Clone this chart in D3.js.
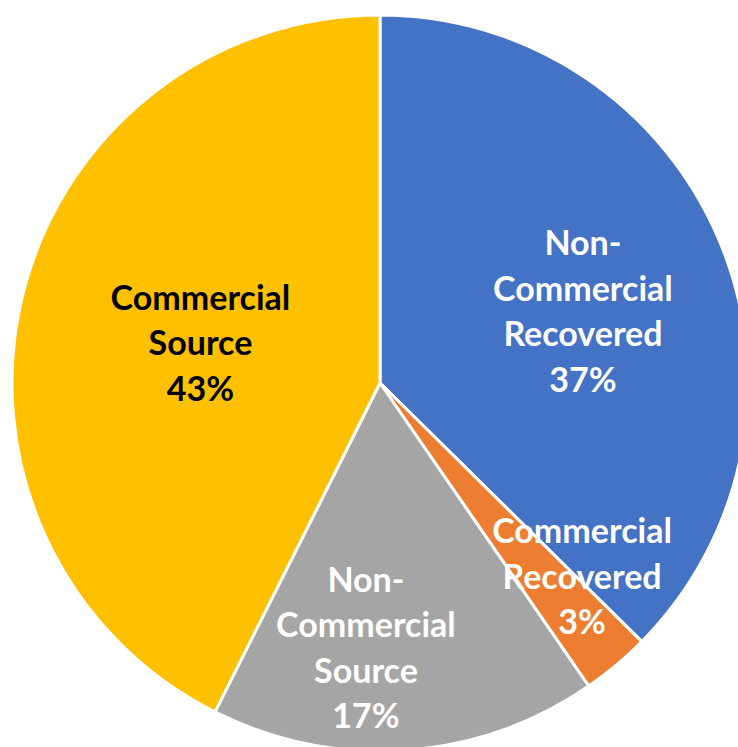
<!DOCTYPE html>
<html>
<head>
<meta charset="utf-8">
<script src="https://cdn.jsdelivr.net/npm/d3@7"></script>
<style>
  html, body { margin: 0; padding: 0; background: #fff; }
  svg { display: block; }
</style>
</head>
<body>
<div id="viz"></div>
<script>
// data, clockwise from 12 o'clock (shares in %, labels show them rounded)
var categories = ["Non-Commercial Recovered", "Commercial Recovered", "Non-Commercial Source", "Commercial Source"];
var values = [37.4, 3.0, 17.0, 42.6];
var labelLines = [
	["Non-", "Commercial", "Recovered"],
	["Commercial", "Recovered"],
	["Non-", "Commercial", "Source"],
	["Commercial", "Source"]
];
var colors = ["#4472C4", "#ED7D31", "#A5A5A5", "#FFC000"];
var textColors = ["#ffffff", "#ffffff", "#ffffff", "#000000"];

// label placement: fraction of radius, angle tweak in degrees
var labelRadius = [0.585, 0.76, 0.72, 0.50];
var labelTurn = [3.2, -6.3, 7, -0.7];

var WIDTH = 738;
var HEIGHT = 747;
var CX = 380;
var CY = 383;
var R = 368;
var FONT_SIZE = 34;
var LINE_H = 45.5;

var svg = d3.select("#viz").append("svg")
	.attr("width", WIDTH)
	.attr("height", HEIGHT);

var g = svg.append("g")
	.attr("transform", "translate(" + CX + "," + CY + ")");

var pie = d3.pie().sort(null).value(function(d) { return d; });
var arcs = pie(values);

var arc = d3.arc().innerRadius(0).outerRadius(R);

g.selectAll("path.slice")
	.data(arcs)
	.enter().append("path")
	.attr("class", "slice")
	.attr("d", arc)
	.attr("fill", function(d, i) { return colors[i]; })
	.attr("stroke", "#ffffff")
	.attr("stroke-width", 3)
	.attr("stroke-linejoin", "round");

var labels = g.selectAll("text.label")
	.data(arcs)
	.enter().append("text")
	.attr("class", "label")
	.attr("font-family", "Lato, 'Open Sans', sans-serif")
	.attr("font-weight", "bold")
	.attr("font-size", FONT_SIZE)
	.attr("text-anchor", "middle")
	.attr("fill", function(d, i) { return textColors[i]; })
	.each(function(d, i) {
		var mid = (d.startAngle + d.endAngle) / 2 + labelTurn[i] * Math.PI / 180;
		var r = R * labelRadius[i];
		var x = Math.sin(mid) * r;
		var y = -Math.cos(mid) * r;
		var lines = labelLines[i].concat([d3.format(".0f")(d.data) + "%"]);
		var top = y - (lines.length - 1) * LINE_H / 2;
		var t = d3.select(this);
		lines.forEach(function(line, k) {
			t.append("tspan")
				.attr("x", x)
				.attr("y", top + k * LINE_H)
				.attr("dy", "0.36em")
				.text(line);
		});
	});
</script>
</body>
</html>
